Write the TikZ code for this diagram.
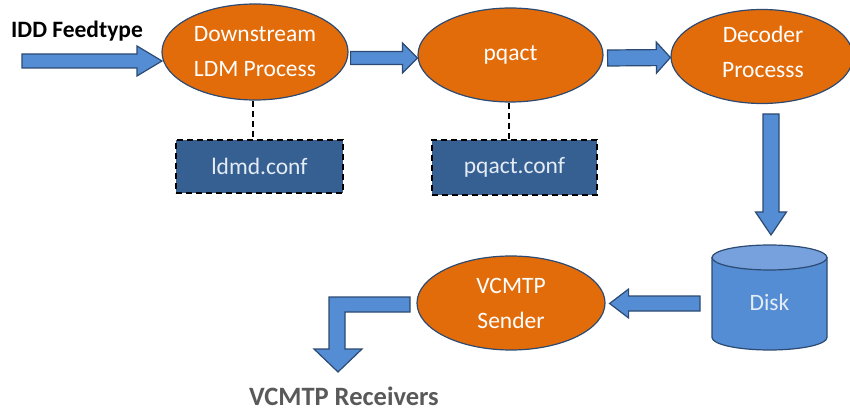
\documentclass[tikz,border=0pt]{standalone}
\usepackage{fontspec}
\setmainfont{Carlito}
\usetikzlibrary{shapes.geometric,calc}

\definecolor{procfill}{HTML}{E36C0A}
\definecolor{procline}{HTML}{2C4A72}
\definecolor{arrowfill}{HTML}{548DD4}
\definecolor{arrowline}{HTML}{2C4A72}
\definecolor{conffill}{HTML}{376092}
\definecolor{conftext}{HTML}{E4ECF6}
\definecolor{disktop}{HTML}{76A1DC}
\definecolor{labelgray}{HTML}{595959}

% straight block arrow: #1 = start, #2 = tip,
% #3 = shaft half width, #4 = head half width, #5 = head length
\newcommand\blockarrow[5]{%
  \coordinate (ba-h) at ($(#2)!#5!(#1)$);
  \filldraw[arrowstyle]
    ($(#1)!#3!90:(#2)$) -- ($(ba-h)!#3!-90:(#1)$) -- ($(ba-h)!#4!-90:(#1)$)
    -- (#2)
    -- ($(ba-h)!#4!90:(#1)$) -- ($(ba-h)!#3!90:(#1)$) -- ($(#1)!#3!-90:(#2)$) -- cycle;
}

\begin{document}
\begin{tikzpicture}[x=1pt,y=-1pt,
  procbox/.style={ellipse, fill=procfill, draw=procline, line width=1.2pt,
    inner sep=0pt, align=center, text=white,
    font=\fontsize{23.5}{35}\selectfont},
  proctext/.style={align=center, text=white, inner sep=0pt,
    font=\fontsize{23.5}{35}\selectfont},
  confbox/.style={rectangle, fill=conffill, draw=black, line width=2pt,
    dash pattern=on 6pt off 4pt, inner sep=0pt, text=conftext,
    font=\fontsize{23.5}{28}\selectfont},
  arrowstyle/.style={fill=arrowfill, draw=arrowline, line width=1.2pt, line join=miter},
  link/.style={draw=black, line width=2pt, dash pattern=on 6pt off 4pt},
  ]
  \useasboundingbox (0,0) rectangle (850,411);

  % processes
  \node[procbox, minimum width=186pt, minimum height=96pt] (ldm) at (255,52)
    {Downstream\\LDM Process};
  \node[procbox, minimum width=185pt, minimum height=94pt] (pq) at (510.5,55) {pqact};
  \node[procbox, minimum width=182pt, minimum height=94pt] (dec) at (762,56.5) {};
  \node[proctext] (dectext) at (763,52) {Decoder\\Processs};
  \node[procbox, minimum width=188pt, minimum height=94pt] (snd) at (511,303)
    {VCMTP\\Sender};

  % configuration files
  \node[confbox, minimum width=167pt, minimum height=53pt] (ldmconf) at (259.5,166.5) {ldmd.conf};
  \node[confbox, minimum width=165pt, minimum height=55pt] (pqconf) at (514.5,167.5) {pqact.conf};
  \draw[link] ([xshift=-2pt]ldm.south) -- ([xshift=-2pt]ldm.south |- ldmconf.north);
  \draw[link] ([xshift=-2pt]pq.south) -- ([xshift=-2pt]pq.south |- pqconf.north);

  % disk
  \fill[arrowfill] (712,257.5) -- (712,337.5)
    arc[start angle=180, end angle=0, x radius=57.5, y radius=12.5]
    -- (827,257.5) -- cycle;
  \draw[arrowline, line width=1.2pt] (712,257.5) -- (712,337.5)
    arc[start angle=180, end angle=0, x radius=57.5, y radius=12.5]
    -- (827,257.5);
  \filldraw[fill=disktop, draw=arrowline, line width=1.2pt]
    (769.5,257.5) ellipse[x radius=57.5, y radius=12.5];
  \node[text=conftext, font=\fontsize{23.5}{28}\selectfont] (disk) at (769.5,302) {Disk};

  % labels
  \node[anchor=base west, inner sep=0pt, font=\fontsize{23.5}{28}\selectfont\bfseries]
    (idd) at (11,38) {IDD Feedtype};
  \node[anchor=base, inner sep=0pt, text=labelgray,
    font=\fontsize{26.5}{30}\selectfont\bfseries] (rcv) at (344,405) {VCMTP Receivers};

  % flow arrows
  \coordinate (a1s) at (22,61);
  \coordinate (a1t) at (162,61);
  \blockarrow{a1s}{a1t}{7pt}{15pt}{25pt}
  \coordinate (a2s) at ($(ldm.east)+(2,6)$);
  \coordinate (a2t) at ($(pq.west)+(0,3)$);
  \blockarrow{a2s}{a2t}{6.5pt}{15pt}{15pt}
  \coordinate (a3s) at ($(pq.east)+(4,3)$);
  \coordinate (a3t) at ($(dec.west)+(0,1)$);
  \blockarrow{a3s}{a3t}{8pt}{15.5pt}{14pt}
  \coordinate (a4s) at (771,114);
  \coordinate (a4t) at (771,235);
  \blockarrow{a4s}{a4t}{8pt}{15.5pt}{23pt}
  \coordinate (a5s) at (700,303.5);
  \coordinate (a5t) at ($(snd.east)+(4,0.5)$);
  \blockarrow{a5s}{a5t}{7.5pt}{14.5pt}{19pt}

  % bent arrow towards the receivers
  \filldraw[arrowstyle] (410,297) -- (329,297) -- (329,349) -- (314,349)
    -- (338,372) -- (362,349) -- (345,349) -- (345,312) -- (410,312) -- cycle;
\end{tikzpicture}
\end{document}
